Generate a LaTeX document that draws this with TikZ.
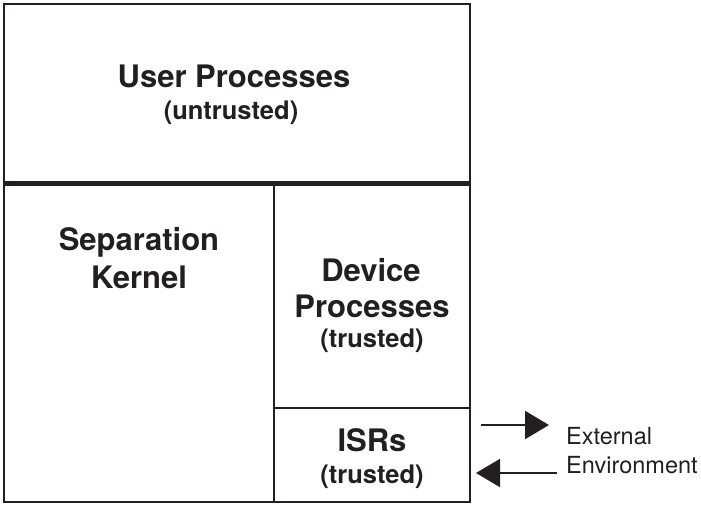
\documentclass[tikz,border=0pt]{standalone}
\usepackage{fontspec}
\setmainfont{TeX Gyre Heros}
\usetikzlibrary{arrows.meta}
\definecolor{ink}{HTML}{231F20}
\begin{document}
\begin{tikzpicture}[x=1pt,y=-1pt,
  frame/.style={draw=ink, line width=2pt},
  thickframe/.style={draw=ink, line width=4.5pt},
  title/.style={font=\fontsize{31}{37}\selectfont\bfseries, text=ink, inner sep=0pt, anchor=base},
  sub/.style={font=\fontsize{25.5}{30}\selectfont\bfseries, text=ink, inner sep=0pt, anchor=base},
  lab/.style={font=\fontsize{23.5}{29}\selectfont, text=ink, inner sep=0pt, anchor=base west},
  flow/.style={draw=ink, line width=2pt, -{Triangle[length=24pt,width=28pt]}}]
\useasboundingbox (0,0) rectangle (701,504);
% frame
\coordinate (tl) at (4,4);
\coordinate (br) at (470,502);
\coordinate (ml) at (4,183.5);
\coordinate (mr) at (470,183.5);
\coordinate (vt) at (274,183.5);
\coordinate (vb) at (274,502);
\coordinate (il) at (274,408);
\coordinate (ir) at (470,408);
\draw[frame] (tl) rectangle (br);
\draw[thickframe] (ml) -- (mr);
\draw[frame] (vt) -- (vb);
\draw[frame] (il) -- (ir);
% texts
\node[title] (up) at (234,87) {User Processes};
\node[sub] (upsub) at (231,119) {(untrusted)};
\node[title] (sk1) at (139,250) {Separation};
\node[title] (sk2) at (139,288) {Kernel};
\node[title] (dp1) at (371,281) {Device};
\node[title] (dp2) at (372,317) {Processes};
\node[sub] (dp3) at (372,347) {(trusted)};
\node[title] (isr) at (372,451) {ISRs};
\node[sub] (isrsub) at (372,483) {(trusted)};
\node[lab] (ext1) at (566,444) {External};
\node[lab] (ext2) at (566,473) {Environment};
% arrows
\coordinate (a1s) at (481,425);
\coordinate (a1e) at (549,425);
\coordinate (a2s) at (557,473);
\coordinate (a2e) at (476,473);
\draw[flow] (a1s) -- (a1e);
\draw[flow] (a2s) -- (a2e);
\end{tikzpicture}
\end{document}
